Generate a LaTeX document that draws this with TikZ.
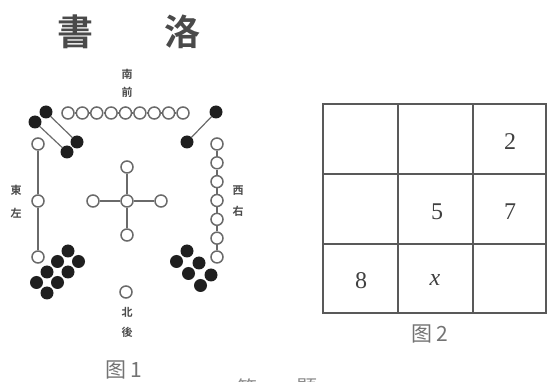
\documentclass[tikz,border=0pt]{standalone}
\usepackage{fontspec}
\setmainfont{Liberation Serif}
\newfontfamily\cjk{Noto Sans CJK SC}[BoldFont={Noto Sans CJK SC Bold}]
\definecolor{ink}{HTML}{4A4A4A}
\definecolor{lineg}{HTML}{6A6A6A}
\begin{document}
\begin{tikzpicture}[x=1pt,y=-1pt,
  wc/.style={circle,draw=lineg,fill=white,line width=1.5pt,minimum size=12pt,inner sep=0pt},
  bc/.style={circle,fill=black!88,minimum size=13pt,inner sep=0pt},
  ln/.style={draw=lineg,line width=1.2pt},
  lab/.style={font=\cjk\bfseries\fontsize{11}{11}\selectfont,text=ink,inner sep=0pt},
  ttl/.style={font=\cjk\bfseries\fontsize{36}{36}\selectfont,text=ink,inner sep=0pt},
  figcap/.style={font=\cjk\fontsize{21}{21}\selectfont,text=black!55,inner sep=0pt},
  num/.style={font=\fontsize{24}{24}\selectfont,text=black!75,inner sep=0pt},
  gridl/.style={draw=black!65,line width=1.3pt}]
\useasboundingbox (0,0) rectangle (547,382);
% title
\node[ttl] (t-shu) at (75,32) {書};
\node[ttl] (t-luo) at (182,32) {洛};
% labels
\node[lab] (ln1) at (127,74) {南};
\node[lab] (ln2) at (127,92) {前};
\node[lab] (le1) at (16,190) {東};
\node[lab] (le2) at (16,213) {左};
\node[lab] (lw1) at (238,191) {西};
\node[lab] (lw2) at (238,211) {右};
\node[lab] (ls1) at (127,312) {北};
\node[lab] (ls2) at (127,332) {後};
% top row: 9
\foreach \i in {0,...,8} \node[wc] (t\i) at ({68+\i*14.375},113) {};
\foreach \i [evaluate=\i as \j using int(\i+1)] in {0,...,7} \draw[ln] (t\i) -- (t\j);
% right column: 7
\foreach \i in {0,...,6} \node[wc] (r\i) at (217,{144+\i*18.83}) {};
\foreach \i [evaluate=\i as \j using int(\i+1)] in {0,...,5} \draw[ln] (r\i) -- (r\j);
% left column: 3
\node[wc] (l0) at (38,144) {};
\node[wc] (l1) at (38,201) {};
\node[wc] (l2) at (38,257) {};
\draw[ln] (l0) -- (l1) (l1) -- (l2);
% centre: 5
\node[wc] (c) at (127,201) {};
\node[wc] (cn) at (127,167) {};
\node[wc] (cs) at (127,235) {};
\node[wc] (cw) at (93,201) {};
\node[wc] (ce) at (161,201) {};
\draw[ln] (c) -- (cn) (c) -- (cs) (c) -- (cw) (c) -- (ce);
% bottom: 1
\node[wc] (b) at (126,292) {};
% top-left: 4
\node[bc] (a1) at (46,112) {};
\node[bc] (a2) at (35,122) {};
\node[bc] (a3) at (77,142) {};
\node[bc] (a4) at (67,152) {};
\draw[ln] (a1) -- (a3) (a2) -- (a4);
% top-right: 2
\node[bc] (d1) at (216,112) {};
\node[bc] (d2) at (187,142) {};
\draw[ln] (d1) -- (d2);
% bottom-left: 8
\foreach \i in {0,1} \foreach \j in {0,...,3}
  \node[bc] (e\i\j) at ({68+\i*10.5-\j*10.5},{251+\i*10.5+\j*10.5}) {};
% bottom-right: 6
\foreach \i in {0,1,2} \foreach \j in {0,1}
  \node[bc] (f\i\j) at ({187+\i*12-\j*10.5},{251+\i*12+\j*10.5}) {};
% figure 1 caption
\node[figcap] (cap1) at (124,370) {图\,1};
% figure 2 grid
\draw[gridl] (323,104) rectangle (546,313);
\draw[gridl] (398,104) -- (398,313) (473,104) -- (473,313)
             (323,174) -- (546,174) (323,244) -- (546,244);
\node[num] (n2) at (510,142) {2};
\node[num] (n5) at (437,212) {5};
\node[num] (n7) at (510,212) {7};
\node[num] (n8) at (361,281) {8};
\node[num,font=\itshape\fontsize{24}{24}\selectfont] (nx) at (435,280) {x};
\node[figcap] (cap2) at (430,334) {图\,2};
% text cut by the lower edge, as in the reference
\begin{scope}
\clip (0,0) rectangle (547,382);
\node[figcap,text=black!45] (f1) at (247,388) {第};
\node[figcap,text=black!45] (f2) at (307,388) {题};
\end{scope}
\end{tikzpicture}
\end{document}
